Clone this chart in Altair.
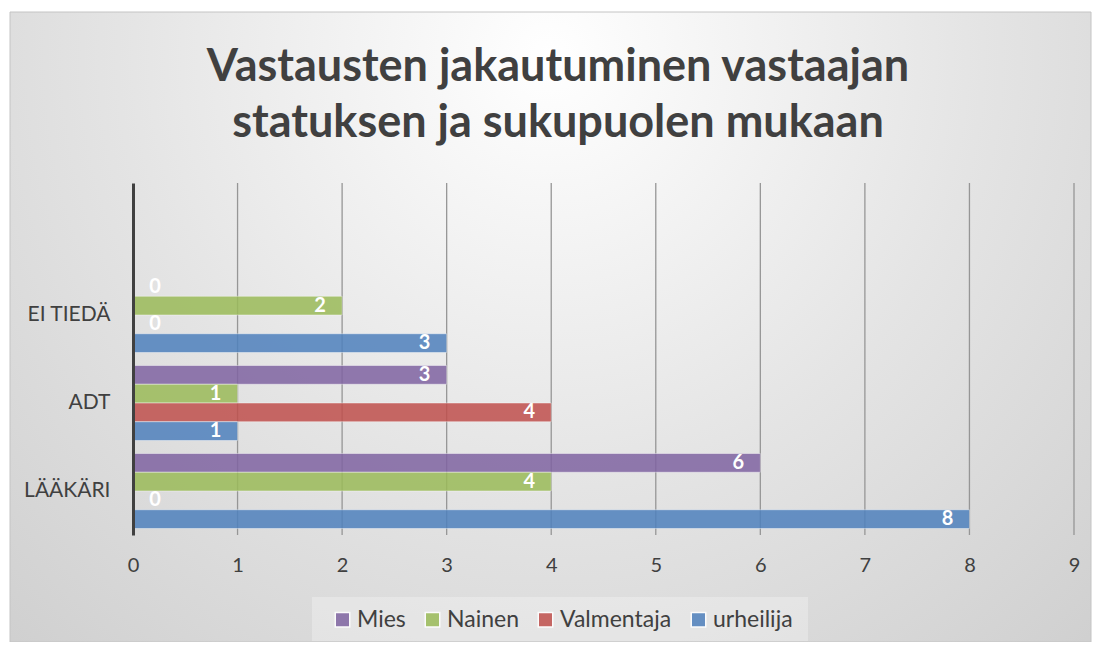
import altair as alt
import pandas as pd

# ---------------- data ----------------
categories = ["LÄÄKÄRI", "ADT", "EI TIEDÄ"]
series = ["Mies", "Nainen", "Valmentaja", "urheilija"]
mies = [6, 3, 0]
nainen = [4, 1, 2]
valmentaja = [0, 4, 0]
urheilija = [8, 1, 3]
colors = ["#8064A2", "#9BBB59", "#C0504D", "#4F81BD"]
x_ticks = [0, 1, 2, 3, 4, 5, 6, 7, 8, 9]
title_lines = ["Vastausten jakautuminen vastaajan", "statuksen ja sukupuolen mukaan"]

rows = []
for s, vals in zip(series, [mies, nainen, valmentaja, urheilija]):
    for c, v in zip(categories, vals):
        rows.append({"kategoria": c, "sarja": s, "arvo": v})
df = pd.DataFrame(rows)
grid_df = pd.DataFrame({"arvo": x_ticks[1:]})

# blank slot at the top of the category axis, as in the original
y_domain = [""] + categories[::-1]

FONT = "Lato"
TXT = "#404040"

x_scale = alt.Scale(domain=[0, 9], nice=False)
x_axis = alt.Axis(title=None, values=x_ticks, grid=False, domain=False, ticks=False,
                  tickSize=0, labelFont=FONT, labelFontSize=20, labelColor=TXT,
                  labelPadding=20, labelFlush=False, zindex=1)

y_enc = alt.Y(
    "kategoria:N",
    scale=alt.Scale(domain=y_domain, paddingInner=0.148, paddingOuter=0.074),
    axis=alt.Axis(title=None, labelFont=FONT, labelFontSize=21, labelColor=TXT,
                  labelPadding=23, ticks=False, tickSize=0, domainColor="#404040",
                  domainWidth=3, grid=False, zindex=1),
)
yoff = alt.YOffset("sarja:N", scale=alt.Scale(domain=series, paddingInner=0, paddingOuter=0))

base = alt.Chart(df)

gridlines = alt.Chart(grid_df).mark_rule(color="#969696", strokeWidth=1.3).encode(
    x=alt.X("arvo:Q", scale=x_scale, axis=x_axis),
    y=alt.value(0), y2=alt.value(352),
)

bars = base.mark_bar(opacity=0.85, stroke="#ffffff", strokeWidth=1, strokeOpacity=0.45).encode(
    x=alt.X("arvo:Q", scale=x_scale, axis=x_axis),
    y=y_enc,
    yOffset=yoff,
    color=alt.Color(
        "sarja:N",
        scale=alt.Scale(domain=series, range=colors),
        legend=alt.Legend(title=None, orient="none", legendX=198, legendY=425,
                          direction="horizontal", symbolType="square", symbolSize=210,
                          symbolOpacity=0.85, labelFont=FONT, labelFontSize=23,
                          labelColor=TXT, columnPadding=15, labelOffset=3, padding=0),
    ),
)

labels_pos = base.transform_filter("datum.arvo > 0").mark_text(
    align="center", baseline="middle", dx=-22, font=FONT, fontSize=20,
    fontWeight="bold", color="white",
).encode(x=alt.X("arvo:Q", scale=x_scale, axis=x_axis), y=alt.Y("kategoria:N"),
         yOffset="sarja:N", text="arvo:Q")

labels_zero = base.transform_filter("datum.arvo == 0").mark_text(
    align="center", baseline="middle", dx=22, font=FONT, fontSize=20,
    fontWeight="bold", color="white",
).encode(x=alt.X("arvo:Q", scale=x_scale, axis=x_axis), y=alt.Y("kategoria:N"),
         yOffset="sarja:N", text="arvo:Q")

one = alt.Data(values=[{"k": 1}])

background = alt.Chart(one).mark_rect(
    fill=alt.RadialGradient(
        gradient="radial", x1=0.5, y1=0.25, r1=0, x2=0.5, y2=0.25, r2=0.8,
        stops=[alt.GradientStop(color="#ffffff", offset=0),
               alt.GradientStop(color="#e4e4e4", offset=0.5),
               alt.GradientStop(color="#cccccc", offset=1)],
    ),
    stroke="#c4c4c4", strokeWidth=1,
).encode(x=alt.value(-123), x2=alt.value(958), y=alt.value(-171), y2=alt.value(459))

legend_box = alt.Chart(one).mark_rect(fill="#ffffff", opacity=0.28).encode(
    x=alt.value(179), x2=alt.value(675), y=alt.value(414), y2=alt.value(458)
)

title = alt.Chart(one).mark_text(
    align="center", baseline="alphabetic", font=FONT, fontSize=45, fontWeight="bold",
    color=TXT, lineHeight=56,
).encode(x=alt.value(425), y=alt.value(-102), text=alt.value(title_lines))

chart = alt.layer(background, legend_box, gridlines, bars, labels_pos, labels_zero, title).properties(
    width=941, height=352,
    padding={"left": 125, "top": 175, "right": 18, "bottom": 107},
    autosize=alt.AutoSizeParams(type="none"),
).configure_view(stroke=None).configure(background="white")

chart.save("out.html", embed_options={"renderer": "svg", "actions": False})
